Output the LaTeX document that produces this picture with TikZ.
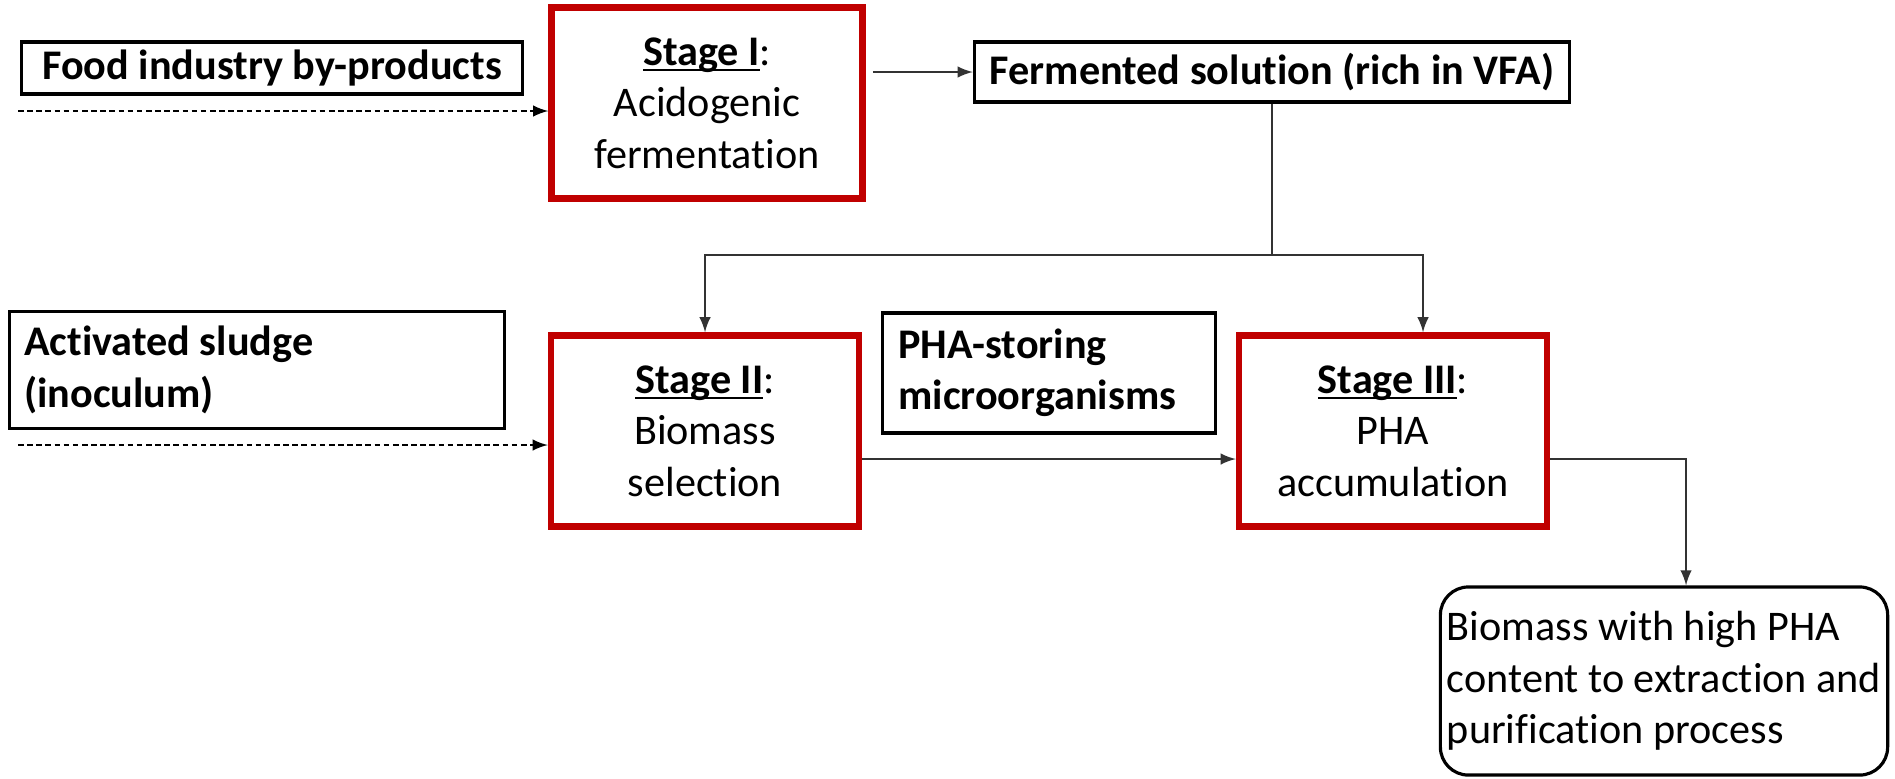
\documentclass[tikz,border=0pt]{standalone}
\usepackage{fontspec}
\setmainfont{Carlito}[Ligatures=NoCommon]
\usetikzlibrary{calc}

\definecolor{stagered}{RGB}{192,0,0}
\newcommand\stageul[1]{\setbox0\hbox{#1}\rlap{\rule[-1.7pt]{\wd0}{0.6pt}}\box0}

\begin{document}
\begin{tikzpicture}[x=0.01cm,y=-0.01cm,
	every node/.style={font=\fontsize{12}{14.6}\selectfont},
	inbox/.style={draw,line width=0.9pt,inner sep=0pt},
	stagebox/.style={draw=stagered,line width=1.8pt,minimum width=3.08cm,minimum height=1.91cm,align=center,inner sep=0pt},
	link/.style={line width=0.5pt,black!80,-latex},
	feed/.style={line width=0.5pt,dash pattern=on 1.6pt off 1pt,-latex}]
\useasboundingbox (0,0) rectangle (1895,778);

% inputs and products
\node[inbox,minimum width=5cm,minimum height=0.52cm] (food) at (272,68) {\textbf{Food industry by-products}};
\node[inbox,minimum width=5.95cm,minimum height=0.6cm] (ferm) at (1272,72) {\textbf{Fermented solution (rich in VFA)}};
\node[inbox,minimum height=1.17cm,inner xsep=0.15cm,text width=4.65cm,align=flush left] (sludge) at (257,370) {\textbf{Activated sludge}\\\textbf{(inoculum)}};
\node[inbox,minimum height=1.2cm,inner xsep=0.16cm,text width=3.01cm,align=flush left] (storing) at (1049,373) {\textbf{PHA-storing}\\\textbf{microorganisms}};
\node[inbox,rounded corners=0.28cm,minimum width=4.47cm,minimum height=1.88cm,inner xsep=0.05cm,align=left] (bio) at (1664,681) {Biomass with high PHA\\content to extraction and\\purification process};

% stages
\node[stagebox,minimum width=3.11cm] (stageI) at (707,103) {\stageul{\textbf{Stage I}}:\\Acidogenic\\fermentation};
\node[stagebox] (stageII) at (705,431) {\stageul{\textbf{Stage II}}:\\Biomass\\selection};
\node[stagebox] (stageIII) at (1393,431) {\stageul{\textbf{Stage III}}:\\PHA\\accumulation};

\coordinate (foodin) at (18,111);
\coordinate (sludgein) at (18,445);
\coordinate (split) at (1272,255);
\coordinate (flow) at (0,459);

\draw[feed] (foodin) -- (foodin -| stageI.west);
\draw[feed] (sludgein) -- (sludgein -| stageII.west);
\draw[link] ([xshift=0.07cm]stageI.east |- ferm.west) -- (ferm.west);
\draw[link,-] (ferm.south) -- (split);
\draw[link] (split) -| (stageII.north);
\draw[link] (split) -| ([xshift=0.3cm]stageIII.north);
\draw[link] (stageII.east |- flow) -- (stageIII.west |- flow);
\draw[link] (stageIII.east |- flow) -| ([xshift=0.22cm]bio.north);
\end{tikzpicture}
\end{document}
